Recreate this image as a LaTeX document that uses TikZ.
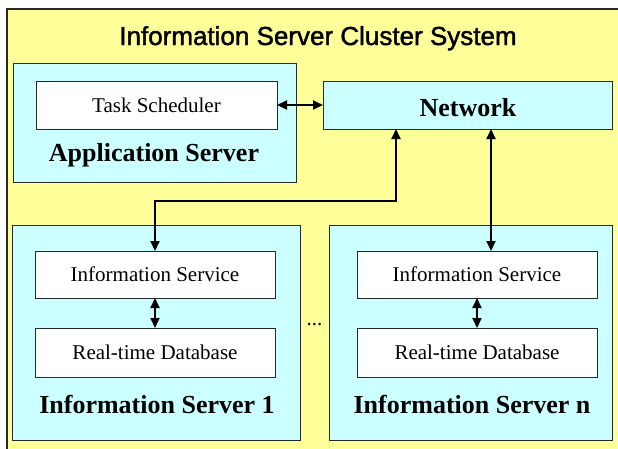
\documentclass[tikz,border=0pt]{standalone}
\usepackage{fontspec}
\setmainfont{Liberation Serif}
\newfontfamily\titlefont[FakeBold=1.6]{Liberation Sans}
\usetikzlibrary{arrows.meta}
\definecolor{paleyellow}{RGB}{255,255,153}
\definecolor{palecyan}{RGB}{204,255,255}
\definecolor{edge}{RGB}{40,40,40}

\begin{document}
\begin{tikzpicture}[x=1pt,y=-1pt,
  every node/.style={inner sep=0pt, outer sep=0pt},
  frame/.style={draw=edge, line width=1pt, fill=palecyan},
  inner/.style={draw=edge, line width=1pt, fill=white,
    font=\fontsize{21}{25}\selectfont},
  heading/.style={font=\bfseries\fontsize{26}{30}\selectfont, anchor=base},
  link/.style={line width=2pt, {Triangle[length=10pt,width=9pt]}-{Triangle[length=10pt,width=9pt]}}
]
\useasboundingbox (0,0) rectangle (618,448);
\clip (0,0) rectangle (618,448);

% enclosing cluster
\node[draw=edge, line width=1.3pt, fill=paleyellow, anchor=north west,
  minimum width=660pt, minimum height=480pt] (cluster) at (7,9) {};
\node[font=\titlefont\fontsize{26}{30}\selectfont, anchor=base] (title)
  at (318,45) {Information Server Cluster System};

% application server
\node[frame, minimum width=283pt, minimum height=119pt] (app) at (154.5,122.5) {};
\node[inner, minimum width=241pt, minimum height=48pt] (task) at (156.5,105) {Task Scheduler};
\node[heading] (applabel) at (154,161) {Application Server};

% network
\node[frame, minimum width=289pt, minimum height=48pt] (net) at (467.5,105) {};
\node[heading] (netlabel) at (468,116) {Network};

% information server 1
\node[frame, minimum width=288pt, minimum height=215pt] (srv1) at (156,332.5) {};
\node[inner, minimum width=240pt, minimum height=47pt] (svc1) at (155,274.5) {Information Service};
\node[inner, minimum width=240pt, minimum height=49pt] (db1) at (155,352.5) {Real-time Database};
\node[heading] (srv1label) at (157,413) {Information Server 1};

% information server n
\node[frame, minimum width=283pt, minimum height=215pt] (srvn) at (470.5,332.5) {};
\node[inner, minimum width=240pt, minimum height=47pt] (svcn) at (477,274.5) {Information Service};
\node[inner, minimum width=240pt, minimum height=49pt] (dbn) at (477,352.5) {Real-time Database};
\node[heading] (srvnlabel) at (472,413) {Information Server n};

% ellipsis between the servers
\node[font=\fontsize{21}{25}\selectfont, anchor=base] (dots) at (314.5,325) {...};

% connectors
\coordinate (jL) at (396,201);
\coordinate (jR) at (491,201);
\draw[link] (task.east) -- (net.west |- task.east);
\draw[link] (net.south -| jL) -- (jL) -| (svc1.north);
\draw[link] (net.south -| jR) -- (svcn.north -| jR);
\draw[link] (svc1.south) -- (db1.north);
\draw[link] (svcn.south) -- (dbn.north);
\end{tikzpicture}
\end{document}
